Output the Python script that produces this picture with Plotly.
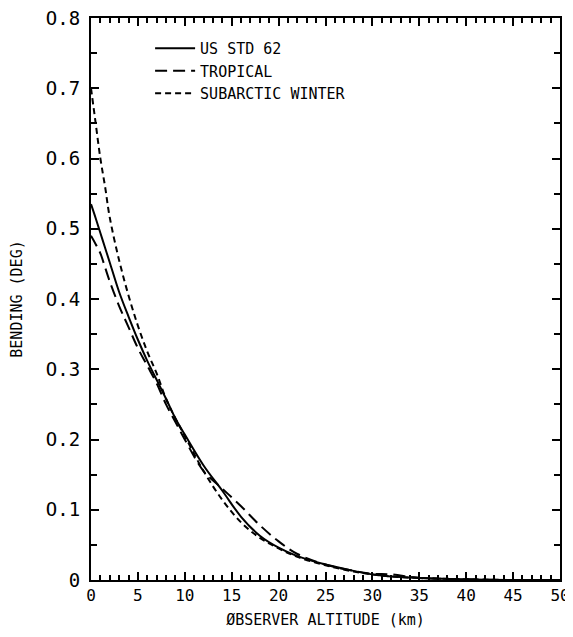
import plotly.graph_objects as go

# observer altitude (km)
alt = [0, 0.5, 1, 1.5, 2, 3, 4, 5, 6, 7, 8, 9, 10, 12, 14, 16, 18, 20, 22, 25, 28, 30, 32, 35, 40, 45, 50]

# bending (deg)
us_std_62 = [0.535, 0.515, 0.494, 0.473, 0.452, 0.41, 0.375, 0.342, 0.312, 0.285, 0.258, 0.23, 0.207,
             0.163, 0.127, 0.09, 0.063, 0.046, 0.034, 0.022, 0.013, 0.008, 0.005, 0.003, 0.001, 0.0, 0.0]
tropical = [0.49, 0.478, 0.465, 0.445, 0.425, 0.39, 0.36, 0.33, 0.305, 0.28, 0.25, 0.225, 0.2,
            0.155, 0.13, 0.105, 0.078, 0.055, 0.037, 0.022, 0.013, 0.009, 0.008, 0.003, 0.001, 0.0, 0.0]
subarctic_winter = [0.70, 0.65, 0.60, 0.56, 0.516, 0.455, 0.405, 0.362, 0.325, 0.294, 0.258, 0.23, 0.205,
                    0.155, 0.114, 0.082, 0.06, 0.045, 0.033, 0.021, 0.012, 0.008, 0.005, 0.003, 0.001, 0.0, 0.0]

y_ticks = [0, 0.1, 0.2, 0.3, 0.4, 0.5, 0.6, 0.7, 0.8]
y_labels = ["0", "O.1", "O.2", "O.3", "O.4", "O.5", "O.6", "O.7", "O.8"]
x_ticks = [0, 5, 10, 15, 20, 25, 30, 35, 40, 45, 50]

font = "DejaVu Sans Mono"

fig = go.Figure()
fig.add_trace(go.Scatter(x=alt, y=us_std_62, mode='lines', name='US STD 62',
                         line=dict(color='black', width=2, dash='solid'), line_shape='spline'))
fig.add_trace(go.Scatter(x=alt, y=tropical, mode='lines', name='TROPICAL',
                         line=dict(color='black', width=2, dash='12px,6px'), line_shape='spline'))
fig.add_trace(go.Scatter(x=alt, y=subarctic_winter, mode='lines', name='SUBARCTIC WINTER',
                         line=dict(color='black', width=2, dash='6px,4px'), line_shape='spline'))

# page body adds ~8px offset, so the figure is a bit smaller than the window
fig.update_layout(
    width=565, height=621,
    margin=dict(l=83, r=13, t=10, b=49),
    paper_bgcolor='white', plot_bgcolor='white',
    font=dict(family=font, color='black', size=15),
    showlegend=True,
    legend=dict(x=0.126, y=0.975, xanchor='left', yanchor='top',
                bgcolor='rgba(0,0,0,0)', font=dict(size=15, family=font),
                tracegroupgap=0, itemwidth=40),
)
fig.update_xaxes(
    range=[0, 50], tickvals=x_ticks, showgrid=False, zeroline=False, automargin=False,
    ticklabeloverflow='allow',
    showline=True, linecolor='black', linewidth=2, mirror='ticks',
    ticks='inside', ticklen=8, tickwidth=2, tickcolor='black',
    minor=dict(dtick=1, ticks='inside', ticklen=5, tickwidth=1.5, tickcolor='black'),
    tickfont=dict(size=16, family=font),
    title=dict(text='ØBSERVER ALTITUDE (km)', font=dict(size=15, family=font), standoff=11),
)
fig.update_yaxes(
    range=[0, 0.8], tickvals=y_ticks, ticktext=y_labels, showgrid=False, zeroline=False, automargin=False,
    ticklabeloverflow='allow',
    showline=True, linecolor='black', linewidth=2, mirror='ticks',
    ticks='inside', ticklen=8, tickwidth=2, tickcolor='black',
    minor=dict(dtick=0.05, ticks='inside', ticklen=6, tickwidth=1.5, tickcolor='black'),
    tickfont=dict(size=19, family=font), ticklabelstandoff=5,
    title=dict(text='BENDING (DEG)', font=dict(size=15, family=font), standoff=22),
)

fig.write_html("out.html")
